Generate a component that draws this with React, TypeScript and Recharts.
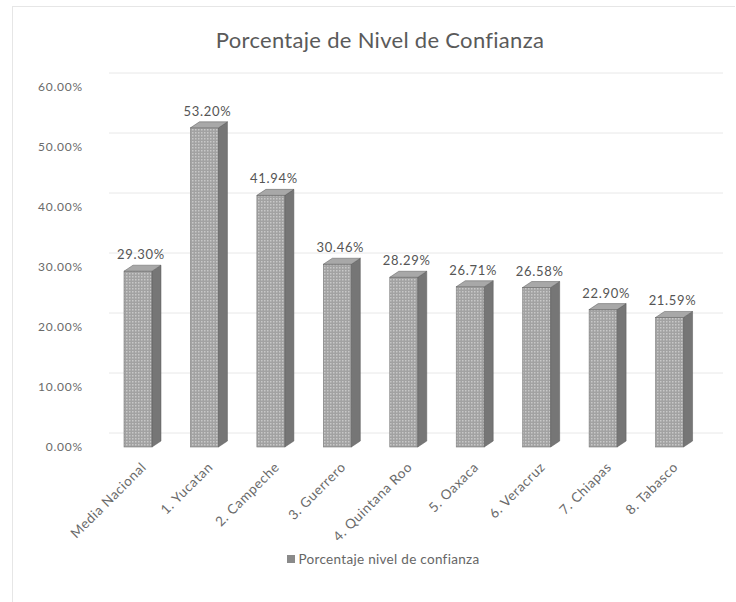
import React from 'react';
import {
  BarChart,
  Bar,
  XAxis,
  YAxis,
  CartesianGrid,
  Legend,
  LabelList,
} from 'recharts';

const categories = [
  'Media Nacional',
  '1. Yucatan',
  '2. Campeche',
  '3. Guerrero',
  '4. Quintana Roo',
  '5. Oaxaca',
  '6. Veracruz',
  '7. Chiapas',
  '8. Tabasco',
];
const confianza = [29.3, 53.2, 41.94, 30.46, 28.29, 26.71, 26.58, 22.9, 21.59];
const yTicks = [0, 10, 20, 30, 40, 50, 60];

const data = categories.map((name, i) => ({ name, value: confianza[i] }));

const FONT = 'Lato, "Open Sans", sans-serif';
const DX = 9;
const DY = 6;

const Bar3D = (props: any) => {
  const { x, y, width, height } = props;
  if (height <= 0) return null;
  const r = x + width;
  const b = y + height;
  return (
    <g>
      <rect x={x} y={y} width={width} height={height} fill="url(#dots)" stroke="#7a7a7a" strokeWidth={0.6} />
      <polygon
        points={`${r},${y} ${r + DX},${y - DY} ${r + DX},${b - DY} ${r},${b}`}
        fill="#767676"
        stroke="#5a5a5a"
        strokeWidth={0.5}
      />
      <polygon
        points={`${x},${y} ${x + DX},${y - DY} ${r + DX},${y - DY} ${r},${y}`}
        fill="#a8a8a8"
        stroke="#5a5a5a"
        strokeWidth={0.5}
      />
    </g>
  );
};

const XTick = (props: any) => {
  const { x, y, payload } = props;
  return (
    <text
      x={x + 9}
      y={y + 13}
      transform={`rotate(-45 ${x + 9} ${y + 13})`}
      textAnchor="end"
      fontSize={13.5}
      letterSpacing={0.6}
      fill="#6a6a6a"
      fontFamily={FONT}
    >
      {payload.value}
    </text>
  );
};

const ValueLabel = (props: any) => {
  const { x, y, width, value } = props;
  return (
    <text
      x={x + width / 2 + 3}
      y={y - 12}
      textAnchor="middle"
      fontSize={13}
      letterSpacing={0.7}
      fill="#555"
      fontFamily={FONT}
    >
      {`${Number(value).toFixed(2)}%`}
    </text>
  );
};

const GridLine = (props: any) => {
  const { x1, y1, x2, y2 } = props;
  return <line x1={x1 + 4} y1={y1 - 14} x2={x2 + 20} y2={y2 - 14} stroke="#e8e8e8" strokeWidth={1} />;
};

const LegendContent = () => (
  <div
    style={{
      display: 'flex',
      justifyContent: 'center',
      alignItems: 'center',
      fontFamily: FONT,
      fontSize: 13.5,
      letterSpacing: 0.3,
      color: '#666',
    }}
  >
    <span style={{ display: 'inline-block', width: 8, height: 8, background: '#8a8a8a', marginRight: 4 }} />
    Porcentaje nivel de confianza
  </div>
);

export default function App() {
  return (
    <div style={{ position: 'absolute', left: 0, top: 0, width: 736, height: 602, background: '#fff' }}>
      <div
        style={{
          position: 'absolute',
          left: 12,
          top: 6,
          width: 722,
          height: 596,
          borderLeft: '1px solid #e6e6e6',
          borderTop: '1px solid #e6e6e6',
        }}
      />
      <div
        style={{
          position: 'absolute',
          top: 26,
          left: 0,
          width: 760,
          textAlign: 'center',
          fontFamily: FONT,
          fontSize: 22,
          letterSpacing: 0.3,
          color: '#5a5a5a',
        }}
      >
        Porcentaje de Nivel de Confianza
      </div>
      <BarChart
        width={736}
        height={602}
        data={data}
        margin={{ top: 87, right: 33, bottom: 0, left: 0 }}
        barSize={28}
        style={{ position: 'absolute', left: 0, top: 0 }}
      >
        <defs>
          <pattern id="dots" width="3" height="3" patternUnits="userSpaceOnUse">
            <rect width="3" height="3" fill="#a2a2a2" />
            <rect width="1.5" height="1.5" fill="#c8c8c8" />
          </pattern>
        </defs>
        <CartesianGrid vertical={false} horizontal={(p: any) => <GridLine key={p.key} {...p} />} />
        <XAxis dataKey="name" height={155} interval={0} tick={<XTick />} axisLine={false} tickLine={false} />
        <YAxis
          width={105}
          domain={[0, 60]}
          ticks={yTicks}
          tickFormatter={(v: number) => `${v.toFixed(2)}%`}
          axisLine={false}
          tickLine={false}
          tickSize={0}
          tickMargin={22}
          tick={{ fontSize: 12, fill: '#6a6a6a', fontFamily: FONT, letterSpacing: 0.8 }}
        />
        <Legend
          layout="horizontal"
          verticalAlign="middle"
          align="center"
          content={<LegendContent />}
          wrapperStyle={{ top: 551, left: 0, width: 766 }}
        />
        <Bar dataKey="value" name="Porcentaje nivel de confianza" shape={<Bar3D />} isAnimationActive={false}>
          <LabelList dataKey="value" content={<ValueLabel />} />
        </Bar>
      </BarChart>
    </div>
  );
}
